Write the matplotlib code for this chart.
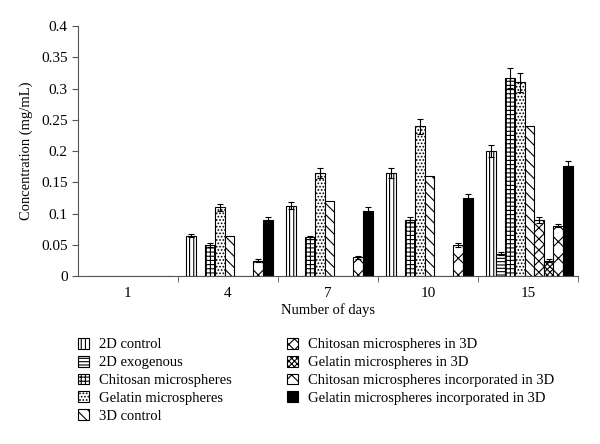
import numpy as np
import matplotlib
matplotlib.use('Agg')
import matplotlib.pyplot as plt

plt.rcParams['font.family'] = ['Liberation Serif', 'DejaVu Serif']
plt.rcParams['hatch.linewidth'] = 0.8

# Data
days = ['1', '4', '7', '10', '15']
labels = ['2D control', '2D exogenous', 'Chitosan microspheres', 'Gelatin microspheres',
          '3D control', 'Chitosan microspheres in 3D', 'Gelatin microspheres in 3D',
          'Chitosan microspheres incorporated in 3D', 'Gelatin microspheres incorporated in 3D']

ctrl_2d = [0, 0.065, 0.113, 0.165, 0.200]
exo_2d = [0, 0, 0, 0, 0.036]
chit_micro = [0, 0.050, 0.062, 0.090, 0.317]
gel_micro = [0, 0.110, 0.165, 0.240, 0.310]
ctrl_3d = [0, 0.065, 0.120, 0.160, 0.240]
chit_3d = [0, 0, 0, 0, 0.090]
gel_3d = [0, 0, 0, 0, 0.025]
chit_inc = [0, 0.025, 0.030, 0.050, 0.081]
gel_inc = [0, 0.090, 0.105, 0.125, 0.176]

ctrl_2d_err = [0, 0.003, 0.005, 0.008, 0.010]
exo_2d_err = [0, 0, 0, 0, 0.002]
chit_micro_err = [0, 0.003, 0.003, 0.004, 0.016]
gel_micro_err = [0, 0.005, 0.008, 0.012, 0.015]
ctrl_3d_err = [0, 0, 0, 0, 0]
chit_3d_err = [0, 0, 0, 0, 0.005]
gel_3d_err = [0, 0, 0, 0, 0.002]
chit_inc_err = [0, 0.002, 0.002, 0.003, 0.003]
gel_inc_err = [0, 0.004, 0.005, 0.006, 0.008]

series = [ctrl_2d, exo_2d, chit_micro, gel_micro, ctrl_3d, chit_3d, gel_3d, chit_inc, gel_inc]
errors = [ctrl_2d_err, exo_2d_err, chit_micro_err, gel_micro_err, ctrl_3d_err,
          chit_3d_err, gel_3d_err, chit_inc_err, gel_inc_err]
hatches = ['||||', '-----', '++++', '.....', '\\\\\\', 'xxx', 'xxxxxx', '\\\\//', '']
fills = ['white'] * 8 + ['black']

fig = plt.figure(figsize=(6, 4.44), dpi=100)
ax = fig.add_axes([0.13, 0.378, 0.833, 0.563])

x = np.arange(len(days))
w = 0.096
for i, (vals, err) in enumerate(zip(series, errors)):
    pos = x - 4 * w + i * w + 0.015
    vals = np.array(vals)
    ax.bar(pos, vals, w, color=fills[i], edgecolor='black', hatch=hatches[i],
           linewidth=0.8, label=labels[i])
    err = np.array(err)
    m = err > 0
    ax.errorbar(pos[m], vals[m], yerr=err[m], fmt='none', ecolor='black',
                elinewidth=0.8, capsize=2, capthick=0.8)

ax.set_xlim(-0.5, 4.5)
ax.set_ylim(0, 0.4)
ax.set_yticks(np.arange(0, 0.401, 0.05))
ax.set_yticklabels(['0', '0.05', '0.1', '0.15', '0.2', '0.25', '0.3', '0.35', '0.4'])
ax.set_xticks(x)
ax.set_xticklabels(days)
ax.tick_params(axis='x', which='major', length=0, pad=8)
ax.set_xticks(np.arange(0.5, 4.6, 1), minor=True)
ax.tick_params(axis='x', which='minor', length=4, direction='out', color='#555555')
ax.tick_params(axis='y', length=4, direction='out', color='#555555')
ax.tick_params(labelsize=11)
for s in ['top', 'right']:
    ax.spines[s].set_visible(False)
for s in ['left', 'bottom']:
    ax.spines[s].set_color('#555555')

ax.set_ylabel('Concentration (mg/mL)', fontsize=10.5, labelpad=6)
ax.set_xlabel('Number of days', fontsize=10.5, labelpad=2)

fig.legend(loc='upper left', bbox_to_anchor=(0.118, 0.255), ncol=2, frameon=False,
           fontsize=10.5, handlelength=0.75, handleheight=0.75, handletextpad=0.65,
           columnspacing=3.85, labelspacing=0.3, borderpad=0)

fig.savefig('out.png', dpi=100)
